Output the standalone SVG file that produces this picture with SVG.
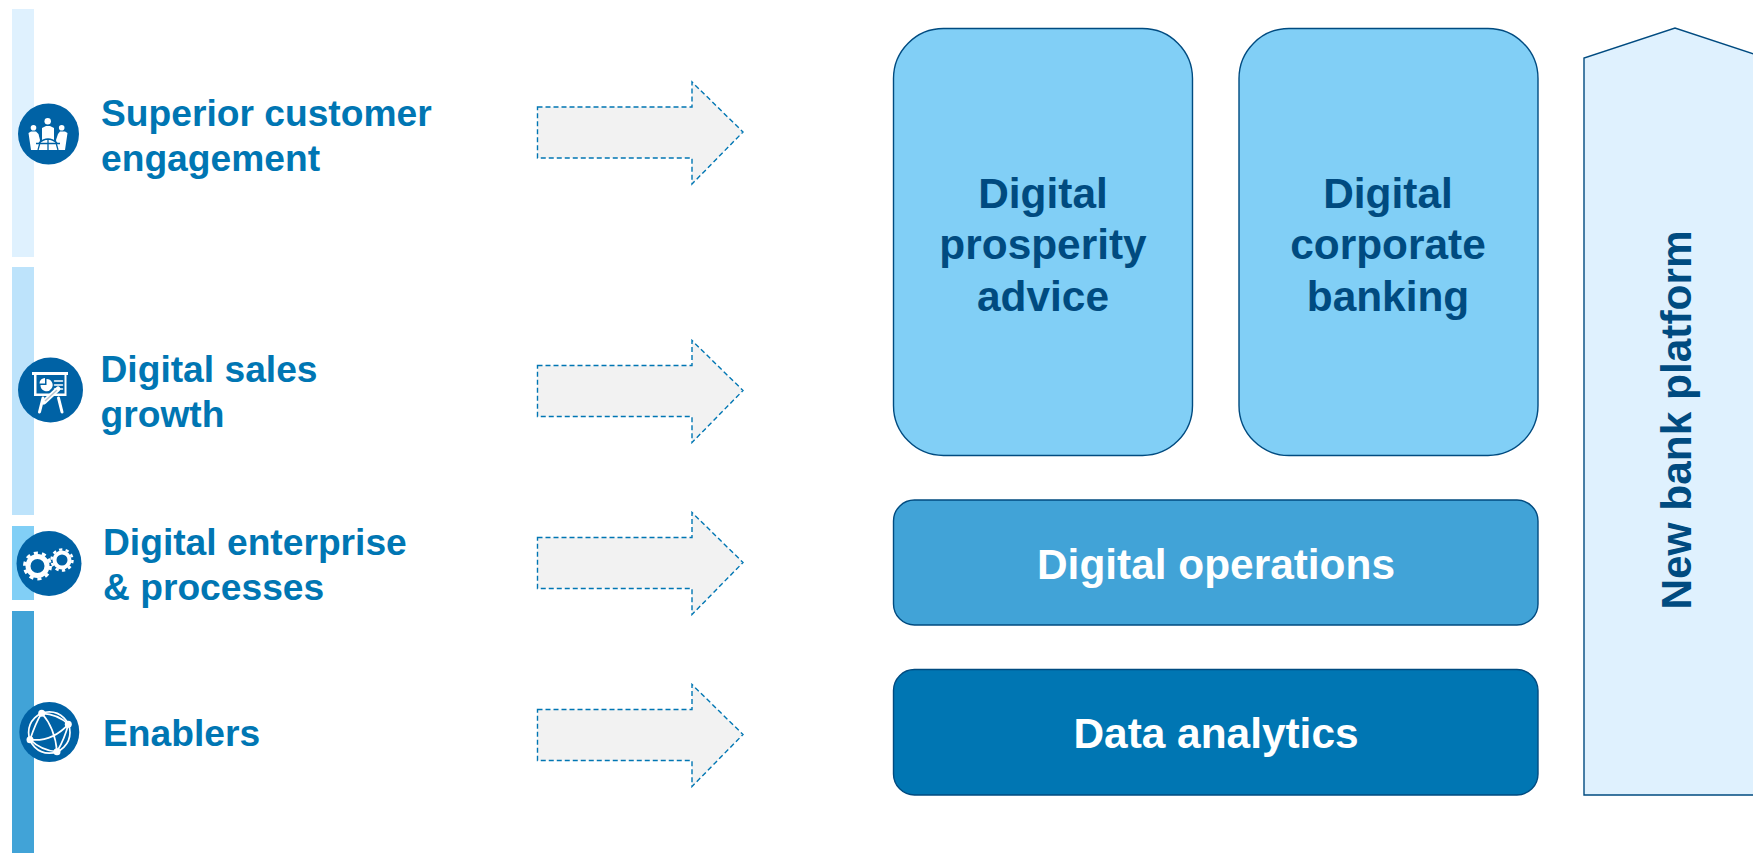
<svg xmlns="http://www.w3.org/2000/svg" width="1753" height="853" viewBox="0 0 1753 853">
<style>
text{font-family:"Liberation Sans",Arial,sans-serif;font-weight:700}
.lbl{font-size:37.2px;fill:#0076B3}
.big{font-size:42.4px;fill:#004B80;text-anchor:middle}
.wht{font-size:42.4px;fill:#fff;text-anchor:middle}
.box{stroke:#004B80;stroke-width:1.4}
.ic{fill:#0062A5}
.w{fill:#fff}
.l{fill:none;stroke:#fff;stroke-linecap:round}
.arrow{fill:#F2F2F2;stroke:#0076B3;stroke-width:1.4;stroke-dasharray:5 3}
</style>
<defs>
<path id="arr" d="M537.5 107H692V82L743 132L692 184V158H537.5Z"/>
</defs>
<g id="bars">
<rect x="12" y="9" width="22" height="248" fill="#DFF1FE"/>
<rect x="12" y="267" width="22" height="248" fill="#BDE3FB"/>
<rect x="12" y="526" width="22" height="74" fill="#81CFF6"/>
<rect x="12" y="611" width="22" height="242" fill="#41A3D7"/>
</g>
<g id="connectors">
<use href="#arr" class="arrow"/>
<use href="#arr" class="arrow" y="258.5"/>
<use href="#arr" class="arrow" y="430.5"/>
<use href="#arr" class="arrow" y="602.5"/>
</g>
<g id="node-engagement">
<circle class="ic" cx="48.5" cy="134" r="30.5"/>
<g class="w">
<circle cx="47.700" cy="121.300" r="3.200"/><circle cx="33.500" cy="127.700" r="2.800"/><circle cx="61.700" cy="127.700" r="2.800"/>
<path d="M42 128L46 126H50L54 128V141H42Z"/>
<path d="M28.500 133L31 131.500H36L38.500 134L40 140H56L58 134L60 131.500H65L67.500 133L65 150H31Z"/>
</g>
<g fill="none" stroke="#0062A5" stroke-width="1.300"><path d="M36 143.500H60M41 139L38 150M48 139V150M55 139L58 150M39 143Q48 135 57 143"/></g>
</g>
<g id="node-sales">
<circle class="ic" cx="50.5" cy="390" r="32.5"/>
<path class="w" d="M32 372H68V375H66.500V396H34V375H32Z"/>
<path d="M36.500 375H64.500V393.500H36.500Z" fill="#0062A5"/>
<path class="w" d="M46 378.500V384.500H40A6 6 0 0 0 51 388A6 6 0 0 0 46 378.500Z" transform="translate(0.500 0.500)"/>
<path class="w" d="M39.500 383.500A5.500 5.500 0 0 1 45 378V383.500Z"/>
<path class="l" stroke-width="1.500" d="M54.500 381H62.500M54.500 385H62.500M54.500 389H62.500"/>
<path class="l" stroke-width="3" d="M39.500 412L43 398M62 412L58.500 398"/>
<path d="M44 402L58 389" fill="none" stroke="#fff" stroke-width="5" stroke-linecap="round"/>
<path d="M45 401L57 390" fill="none" stroke="#B8C4CE" stroke-width="1.500"/>
</g>
<g id="node-processes">
<circle class="ic" cx="49" cy="563.5" r="32.500"/>
<circle cx="37.500" cy="566" r="9.500" fill="none" stroke="#fff" stroke-width="5"/>
<circle cx="37.500" cy="566" r="13" fill="none" stroke="#fff" stroke-width="3" stroke-dasharray="4.080 4.090"/>
<circle cx="62" cy="560" r="7.500" fill="none" stroke="#fff" stroke-width="4"/>
<circle cx="62" cy="560" r="10.500" fill="none" stroke="#fff" stroke-width="2.500" stroke-dasharray="3.300 3.300"/>
</g>
<g id="node-enablers">
<circle class="ic" cx="49.3" cy="732" r="30"/>
<g fill="none" stroke="#fff" stroke-width="1.700">
<circle cx="49.300" cy="732.500" r="20.700"/>
<path d="M41.700 713.300Q55 728 57 751.700M30 739.700Q52 742 68.300 724.300M41.700 713.300Q36 722 30 739.700M41.700 713.300Q58 714 68.300 724.300M30 739.700Q42 751 57 751.700M68.300 724.300Q65 738 57 751.700"/>
</g>
<g class="w"><circle cx="41.700" cy="713.300" r="3.500"/><circle cx="68.300" cy="724.300" r="3.500"/><circle cx="30" cy="739.700" r="3.500"/><circle cx="57" cy="751.700" r="3.500"/></g>
</g>
<g id="labels">
<text class="lbl" x="101" y="126">Superior customer</text>
<text class="lbl" x="101" y="171">engagement</text>
<text class="lbl" x="100.500" y="382">Digital sales</text>
<text class="lbl" x="100.500" y="427">growth</text>
<text class="lbl" x="103" y="555">Digital enterprise</text>
<text class="lbl" x="103" y="600">&amp; processes</text>
<text class="lbl" x="103" y="746">Enablers</text>
</g>
<g id="node-prosperity">
<rect class="box" x="893.500" y="28.500" width="299" height="427" rx="50" fill="#81CFF6"/>
<text class="big" x="1043" y="208">Digital</text>
<text class="big" x="1043" y="259">prosperity</text>
<text class="big" x="1043" y="311">advice</text>
</g>
<g id="node-corporate">
<rect class="box" x="1239" y="28.500" width="299" height="427" rx="50" fill="#81CFF6"/>
<text class="big" x="1388" y="208">Digital</text>
<text class="big" x="1388" y="259">corporate</text>
<text class="big" x="1388" y="311">banking</text>
</g>
<g id="node-operations">
<rect class="box" x="893.500" y="500" width="644.500" height="125" rx="21" fill="#41A3D7"/>
<text class="wht" x="1216" y="579">Digital operations</text>
</g>
<g id="node-analytics">
<rect class="box" x="893.500" y="669.500" width="644.500" height="125.500" rx="21" fill="#0076B3"/>
<text class="wht" x="1216" y="748">Data analytics</text>
</g>
<g id="node-platform">
<path d="M1584 795V58L1675 28L1766 58V795Z" fill="#DFF1FE" stroke="#004B80" stroke-width="1.400"/>
<text class="big" transform="translate(1691 420) rotate(-90)">New bank platform</text>
</g>
</svg>
